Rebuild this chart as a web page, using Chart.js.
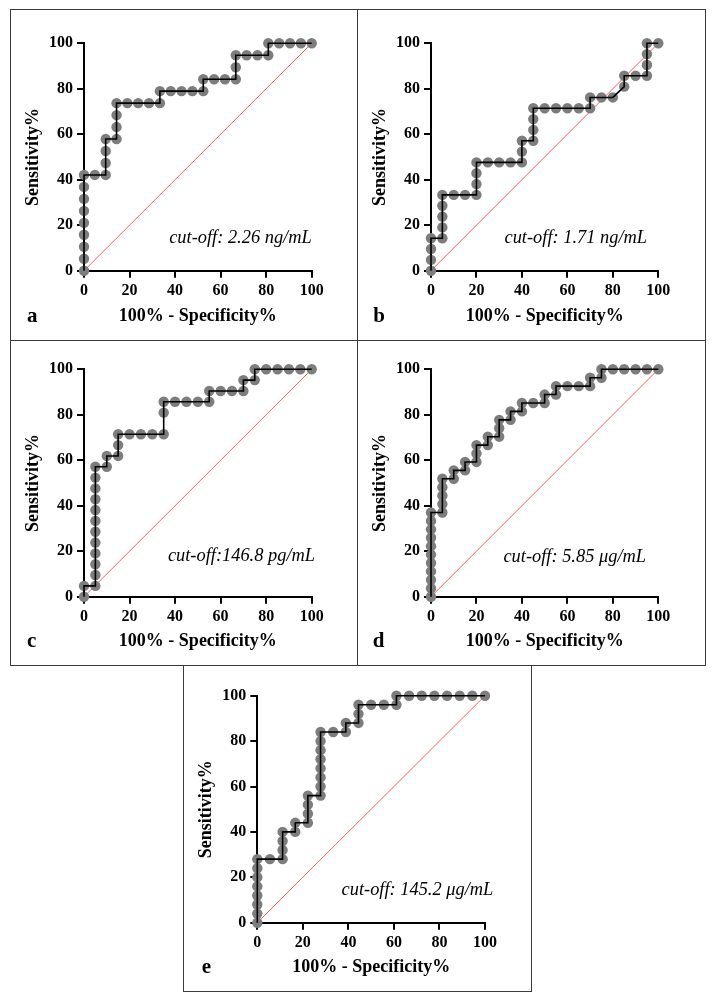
<!DOCTYPE html>
<html>
<head>
<meta charset="utf-8">
<script src="https://cdn.jsdelivr.net/npm/chart.js@4.4.0/dist/chart.umd.min.js"></script>
<style>
  html, body { margin: 0; padding: 0; background: #fff; }
  #page { position: relative; width: 716px; height: 1003px; }
  .box { position: absolute; box-sizing: border-box; border: 1px solid #3a3a3a; }
  canvas { position: absolute; }
</style>
</head>
<body>
<div id="page"></div>
<script>
// ROC points: x = 100% - Specificity%, y = Sensitivity%
const aX = [0,0,0,0,0,0,0,0,0, 4.76, 9.52,9.52,9.52,9.52, 14.29,14.29,14.29,14.29, 19.05, 23.81, 28.57, 33.33,33.33, 38.1, 42.86, 47.62, 52.38,52.38, 57.14, 61.9, 66.67,66.67,66.67, 71.43, 76.19, 80.95,80.95, 85.71, 90.48, 95.24, 100];
const aY = [0,5.26,10.53,15.79,21.05,26.32,31.58,36.84,42.11, 42.11, 42.11,47.37,52.63,57.89, 57.89,63.16,68.42,73.68, 73.68, 73.68, 73.68, 73.68,78.95, 78.95, 78.95, 78.95, 78.95,84.21, 84.21, 84.21, 84.21,89.47,94.74, 94.74, 94.74, 94.74,100, 100, 100, 100, 100];

const bX = [0,0,0,0, 5,5,5,5,5, 10, 15, 20,20,20,20, 25, 30, 35, 40,40,40, 45,45,45,45, 50, 55, 60, 65, 70,70, 75, 80, 85,85, 90, 95,95,95,95, 100];
const bY = [0,4.76,9.52,14.29, 14.29,19.05,23.81,28.57,33.33, 33.33, 33.33, 33.33,38.1,42.86,47.62, 47.62, 47.62, 47.62, 47.62,52.38,57.14, 57.14,61.9,66.67,71.43, 71.43, 71.43, 71.43, 71.43, 71.43,76.19, 76.19, 76.19, 80.95,85.71, 85.71, 85.71,90.48,95.24,100, 100];

const cX = [0,0, 5,5,5,5,5,5,5,5,5,5,5,5, 10,10, 15,15,15, 20, 25, 30, 35,35,35, 40, 45, 50, 55,55, 60, 65, 70,70, 75,75, 80, 85, 90, 95, 100];
const cY = [0,4.76, 4.76,9.52,14.29,19.05,23.81,28.57,33.33,38.1,42.86,47.62,52.38,57.14, 57.14,61.9, 61.9,66.67,71.43, 71.43, 71.43, 71.43, 71.43,80.95,85.71, 85.71, 85.71, 85.71, 85.71,90.48, 90.48, 90.48, 90.48,95.24, 95.24,100, 100, 100, 100, 100, 100];

const dX = [0,0,0,0,0,0,0,0,0,0,0, 5,5,5,5,5, 10,10, 15,15, 20,20,20, 25,25, 30,30,30, 35,35, 40,40, 45, 50,50, 55,55, 60, 65, 70,70, 75,75, 80, 85, 90, 95, 100];
const dY = [0,3.7,7.41,11.11,14.81,18.52,22.22,25.93,29.63,33.33,37.04, 37.04,40.74,44.44,48.15,51.85, 51.85,55.56, 55.56,59.26, 59.26,62.96,66.67, 66.67,70.37, 70.37,74.07,77.78, 77.78,81.48, 81.48,85.19, 85.19, 85.19,88.89, 88.89,92.59, 92.59, 92.59, 92.59,96.3, 96.3,100, 100, 100, 100, 100, 100];

const eX = [0,0,0,0,0,0,0,0, 5.56, 11.11,11.11,11.11,11.11, 16.67,16.67, 22.22,22.22,22.22,22.22, 27.78,27.78,27.78,27.78,27.78,27.78,27.78,27.78, 33.33, 38.89,38.89, 44.44,44.44,44.44, 50, 55.56, 61.11,61.11, 66.67, 72.22, 77.78, 83.33, 88.89, 94.44, 100];
const eY = [0,4,8,12,16,20,24,28, 28, 28,32,36,40, 40,44, 44,48,52,56, 56,60,64,68,72,76,80,84, 84, 84,88, 88,92,96, 96, 96, 96,100, 100, 100, 100, 100, 100, 100, 100];

const letters = ['a', 'b', 'c', 'd', 'e'];
const cutoffs = ['cut-off: 2.26 ng/mL', 'cut-off: 1.71 ng/mL', 'cut-off:146.8 pg/mL', 'cut-off: 5.85 \u03bcg/mL', 'cut-off: 145.2 \u03bcg/mL'];
const axisTicks = [0, 20, 40, 60, 80, 100];
const diagX = [0, 100];
const diagY = [0, 100];

// layout: framed box and plot area in page pixels
const panels = [
  { xs: aX, ys: aY, box: [10, 9, 348, 332],  area: [84, 43.3, 311.7, 270.7],   text: [0, 28],     letter: [16, 311.7] },
  { xs: bX, ys: bY, box: [357, 9, 349, 332], area: [431, 43.3, 658.3, 270.7],  text: [-11.3, 28], letter: [15.3, 311.7] },
  { xs: cX, ys: cY, box: [10, 340, 348, 326],  area: [84, 369.3, 311.7, 596.7],  text: [3.3, 35.7], letter: [16, 305.7] },
  { xs: dX, ys: dY, box: [357, 340, 349, 326], area: [431, 369.3, 658.3, 596.7], text: [-12.3, 35], letter: [14.7, 305.7] },
  { xs: eX, ys: eY, box: [183, 665, 349, 327], area: [257.3, 695.7, 485, 922.7], text: [8.3, 27.7], letter: [17.7, 307.3] }
];

const panelText = {
  id: 'panelText',
  afterDraw(chart, args, opts) {
    const {ctx, chartArea} = chart;
    ctx.save();
    ctx.fillStyle = '#000';
    ctx.textBaseline = 'alphabetic';
    ctx.font = 'italic 18.4px "Liberation Serif"';
    ctx.textAlign = 'right';
    ctx.fillText(opts.cutoff, chartArea.right + opts.dx, chartArea.bottom - opts.dy);
    ctx.font = 'bold 21px "Liberation Serif"';
    ctx.textAlign = 'left';
    ctx.fillText(opts.letter, opts.lx, opts.ly);
    ctx.restore();
  }
};

const page = document.getElementById('page');
const tickFont = { family: '"Liberation Serif"', size: 16, weight: 'bold' };
const titleFont = { family: '"Liberation Serif"', size: 18, weight: 'bold' };

panels.forEach(function(p, i) {
  const [bx, by, bw, bh] = p.box;
  const box = document.createElement('div');
  box.className = 'box';
  box.style.left = bx + 'px'; box.style.top = by + 'px';
  box.style.width = bw + 'px'; box.style.height = bh + 'px';
  page.appendChild(box);

  const cl = bx + 1, ct = by + 1, cw = bw - 2, ch = bh - 2;
  const canvas = document.createElement('canvas');
  canvas.width = cw; canvas.height = ch;
  canvas.style.left = cl + 'px'; canvas.style.top = ct + 'px';
  canvas.style.width = cw + 'px'; canvas.style.height = ch + 'px';
  page.appendChild(canvas);

  const [L, T, R, B] = p.area;
  const yWidth = L - cl;
  const xHeight = ct + ch - B;

  const axis = function(title, isX) {
    return {
      type: 'linear',
      min: 0, max: 100,
      afterBuildTicks: function(scale) { scale.ticks = axisTicks.map(v => ({ value: v })); },
      ticks: { color: '#000', font: tickFont, padding: 4, maxRotation: 0, autoSkip: false },
      grid: { drawOnChartArea: false, drawTicks: true, tickLength: 7, color: '#000', lineWidth: 2 },
      border: { display: true, color: '#000', width: 2 },
      title: {
        display: true, text: title, color: '#000', font: titleFont,
        padding: isX ? { top: 0, bottom: 12.9 } : { top: 11.7, bottom: 0 }
      },
      afterFit: function(scale) {
        if (isX) scale.height = xHeight; else scale.width = yWidth;
      }
    };
  };

  new Chart(canvas, {
    type: 'scatter',
    data: {
      datasets: [
        {
          data: diagX.map((x, k) => ({ x: x, y: diagY[k] })),
          showLine: true, borderColor: '#ff4a4a', borderWidth: 0.9,
          pointRadius: 0, order: 3, clip: false
        },
        {
          data: p.xs.map((x, k) => ({ x: x, y: p.ys[k] })),
          showLine: false, pointRadius: 5.2, pointBackgroundColor: '#7d7d7d',
          pointBorderWidth: 0, order: 2, clip: false
        },
        {
          data: p.xs.map((x, k) => ({ x: x, y: p.ys[k] })),
          showLine: true, borderColor: '#000', borderWidth: 1.6,
          pointRadius: 0, order: 1, clip: false
        }
      ]
    },
    options: {
      responsive: false,
      animation: false,
      events: [],
      layout: { padding: { left: 0, top: T - ct, right: cl + cw - R, bottom: 0 } },
      scales: {
        x: axis('100% - Specificity%', true),
        y: axis('Sensitivity%', false)
      },
      plugins: {
        legend: { display: false },
        tooltip: { enabled: false },
        panelText: { cutoff: cutoffs[i], letter: letters[i], dx: p.text[0], dy: p.text[1], lx: p.letter[0], ly: p.letter[1] }
      }
    },
    plugins: [panelText]
  });
});
</script>
</body>
</html>
